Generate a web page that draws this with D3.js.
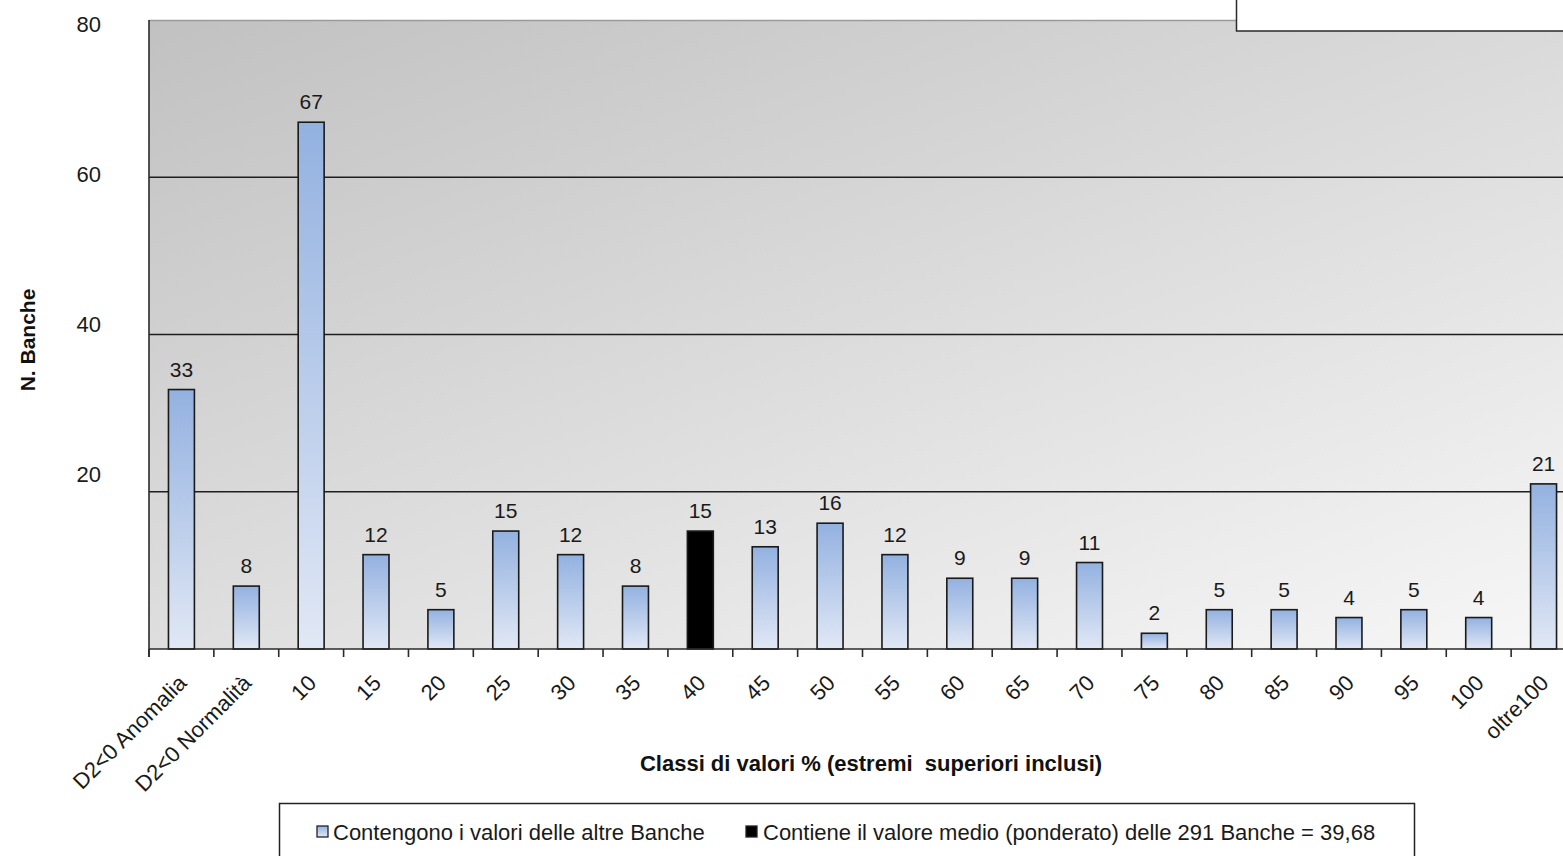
<!DOCTYPE html>
<html>
<head>
<meta charset="utf-8">
<script src="https://cdn.jsdelivr.net/npm/d3@7"></script>
<style>
  html, body { margin: 0; padding: 0; background: #fff; overflow: hidden; }
  text { font-family: "Liberation Sans", Arial, sans-serif; }
</style>
</head>
<body>
<svg id="chart" width="1563" height="856"></svg>
<script>
// Distribuzione delle banche per classi di valori %
const categories = ["D2<0 Anomalia", "D2<0 Normalità", "10", "15", "20", "25", "30", "35", "40", "45",
                    "50", "55", "60", "65", "70", "75", "80", "85", "90", "95", "100", "oltre100"];
const counts = [33, 8, 67, 12, 5, 15, 12, 8, 15, 13, 16, 12, 9, 9, 11, 2, 5, 5, 4, 5, 4, 21];
const highlightCategory = "40";
const yTickValues = [20, 40, 60, 80];
const legendLabels = ["Contengono i valori delle altre Banche",
                      "Contiene il valore medio (ponderato) delle 291 Banche = 39,68"];
const xTitle = "Classi di valori % (estremi  superiori inclusi)";
const yTitle = "N. Banche";

const svg = d3.select("#chart");
const plot = { left: 149, right: 1576, top: 20, bottom: 649 };

const x = d3.scaleBand()
  .domain(categories)
  .range([plot.left, plot.right])
  .paddingInner(0.6)
  .paddingOuter(0.3);

const y = d3.scaleLinear().domain([0, 80]).range([plot.bottom, plot.top]);
// tick labels sit on their own slightly tighter scale
const yLabel = d3.scaleLinear().domain([0, 80]).range([625, 24]);

const defs = svg.append("defs");

const bg = defs.append("linearGradient").attr("id", "bgGrad")
  .attr("x1", 0).attr("y1", 0).attr("x2", 0.91).attr("y2", 1.076);
bg.append("stop").attr("offset", 0).attr("stop-color", "#c1c1c1");
bg.append("stop").attr("offset", 1).attr("stop-color", "#f7f7f7");

const barGrad = defs.append("linearGradient").attr("id", "barGrad")
  .attr("x1", 0).attr("y1", 0).attr("x2", 0).attr("y2", 1);
barGrad.append("stop").attr("offset", 0).attr("stop-color", "#93b1e0");
barGrad.append("stop").attr("offset", 1).attr("stop-color", "#e1e8f5");

// plot background
svg.append("rect")
  .attr("x", plot.left).attr("y", plot.top)
  .attr("width", plot.right - plot.left).attr("height", plot.bottom - plot.top)
  .attr("fill", "url(#bgGrad)");

svg.append("line")
  .attr("x1", plot.left).attr("x2", plot.right)
  .attr("y1", plot.top + 0.5).attr("y2", plot.top + 0.5)
  .attr("stroke", "#9a9a9a").attr("stroke-width", 1.5);

// horizontal gridlines
svg.append("g").selectAll("line")
  .data(yTickValues.filter(v => v < 80))
  .join("line")
  .attr("x1", plot.left).attr("x2", plot.right)
  .attr("y1", d => y(d)).attr("y2", d => y(d))
  .attr("stroke", "#1e1e1e").attr("stroke-width", 1.4);

// y tick labels
svg.append("g").selectAll("text")
  .data(yTickValues)
  .join("text")
  .attr("x", 101).attr("y", d => yLabel(d))
  .attr("dy", "0.35em")
  .attr("text-anchor", "end")
  .attr("font-size", 22)
  .attr("fill", "#1a1a1a")
  .text(d => d);

// bars
const step = x.step();
const offset = (step - x.bandwidth()) / 2;
svg.append("g").selectAll("rect")
  .data(categories.map((c, i) => ({ c, v: counts[i] })))
  .join("rect")
  .attr("x", d => x(d.c))
  .attr("y", d => y(d.v))
  .attr("width", x.bandwidth())
  .attr("height", d => y(0) - y(d.v))
  .attr("fill", d => d.c === highlightCategory ? "#000" : "url(#barGrad)")
  .attr("stroke", "#1a1a1a").attr("stroke-width", 1.6);

// value labels
svg.append("g").selectAll("text")
  .data(categories.map((c, i) => ({ c, v: counts[i] })))
  .join("text")
  .attr("x", d => x(d.c) + x.bandwidth() / 2)
  .attr("y", d => y(d.v) - 13)
  .attr("text-anchor", "middle")
  .attr("font-size", 21)
  .attr("fill", "#1a1a1a")
  .text(d => d.v);

// axes lines
svg.append("line")
  .attr("x1", plot.left).attr("x2", plot.left)
  .attr("y1", plot.top).attr("y2", plot.bottom + 8)
  .attr("stroke", "#2a2a2a").attr("stroke-width", 1.6);
svg.append("line")
  .attr("x1", plot.left).attr("x2", plot.right)
  .attr("y1", plot.bottom).attr("y2", plot.bottom)
  .attr("stroke", "#2a2a2a").attr("stroke-width", 1.6);

// tick marks on category boundaries
const boundaries = categories.map(c => x(c) - offset).concat([x(categories[categories.length - 1]) - offset + step]);
svg.append("g").selectAll("line")
  .data(boundaries)
  .join("line")
  .attr("x1", d => d).attr("x2", d => d)
  .attr("y1", plot.bottom).attr("y2", plot.bottom + 8)
  .attr("stroke", "#2a2a2a").attr("stroke-width", 1.6);

// rotated category labels
svg.append("g").selectAll("text")
  .data(categories)
  .join("text")
  .attr("transform", d => `translate(${x(d) + x.bandwidth() / 2 + 1},${plot.bottom + 30}) rotate(-45)`)
  .attr("dy", "0.35em")
  .attr("text-anchor", "end")
  .attr("font-size", 22)
  .attr("fill", "#1a1a1a")
  .text(d => d);

// axis titles
svg.append("text")
  .attr("x", 871).attr("y", 771)
  .attr("text-anchor", "middle")
  .attr("font-size", 22).attr("font-weight", "bold")
  .attr("fill", "#111")
  .style("white-space", "pre")
  .text(xTitle);

svg.append("text")
  .attr("transform", "translate(35,340) rotate(-90)")
  .attr("text-anchor", "middle")
  .attr("font-size", 21).attr("font-weight", "bold")
  .attr("fill", "#111")
  .text(yTitle);

// empty box at the top right
svg.append("rect")
  .attr("x", 1236.5).attr("y", -5)
  .attr("width", 400).attr("height", 36)
  .attr("fill", "#fff").attr("stroke", "#2a2a2a").attr("stroke-width", 1.5);

// legend
const legend = svg.append("g");
legend.append("rect")
  .attr("x", 279.5).attr("y", 803.5)
  .attr("width", 1135).attr("height", 60)
  .attr("fill", "#fff").attr("stroke", "#222").attr("stroke-width", 1.5);

const legendItems = [
  { label: legendLabels[0], fill: "url(#barGrad)", sx: 317, tx: 333 },
  { label: legendLabels[1], fill: "#000", sx: 746, tx: 763 }
];
legendItems.forEach(it => {
  legend.append("rect")
    .attr("x", it.sx).attr("y", 826)
    .attr("width", 11).attr("height", 11)
    .attr("fill", it.fill).attr("stroke", "#222").attr("stroke-width", 1.3);
  legend.append("text")
    .attr("x", it.tx).attr("y", 839.5)
    .attr("font-size", 22)
    .attr("fill", "#1a1a1a")
    .text(it.label);
});
</script>
</body>
</html>
